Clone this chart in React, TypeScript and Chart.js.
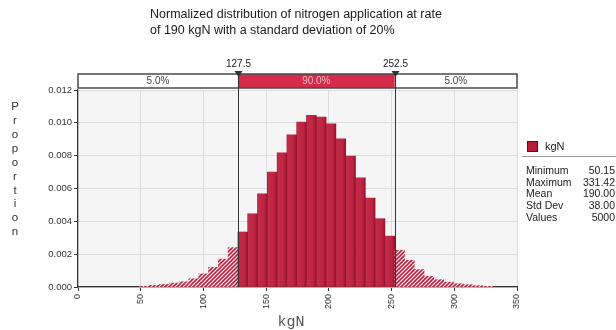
import React, { useEffect, useRef } from 'react';
import { Chart, registerables } from 'chart.js';

Chart.register(...registerables);

const titleLines = [
  'Normalized distribution of nitrogen application at rate',
  'of 190 kgN with a standard deviation of 20%',
];

const binCenters = [
  53.28, 61.09, 68.91, 76.72, 84.53, 92.34, 100.16, 107.97, 115.78, 123.59,
  131.41, 139.22, 147.03, 154.84, 162.66, 170.47, 178.28, 186.09, 193.91, 201.72,
  209.53, 217.34, 225.16, 232.97, 240.78, 248.59,
  256.41, 264.22, 272.03, 279.84, 287.66, 295.47, 303.28, 311.09, 318.91, 326.72,
];

const proportions = [
  0.00004, 0.0001, 0.00016, 0.00024, 0.00032, 0.0005, 0.0008, 0.0012, 0.0017, 0.0024,
  0.00335, 0.00446, 0.00568, 0.007, 0.00817, 0.00927, 0.01004, 0.01045, 0.01035, 0.00994,
  0.00903, 0.00797, 0.00665, 0.00542, 0.00416, 0.0031,
  0.00224, 0.00163, 0.00106, 0.00065, 0.00045, 0.0003, 0.0002, 0.00014, 0.00008, 0.00004,
];

const xTickValues = [0, 50, 100, 150, 200, 250, 300, 350];
const yTickValues = [0, 0.002, 0.004, 0.006, 0.008, 0.01, 0.012];

const delimiters = [127.5, 252.5];
const bandLabels = ['5.0%', '90.0%', '5.0%'];

const yAxisTitle = 'Proportion';
const xAxisTitle = 'kgN';
const legendLabel = 'kgN';
const statNames = ['Minimum', 'Maximum', 'Mean', 'Std Dev', 'Values'];
const statValues = ['50.15', '331.42', '190.00', '38.00', '5000'];

const RED = '#bd1d3c';
const SANS = '"Liberation Sans", Arial, sans-serif';

function inside(v: number) {
  return v > delimiters[0] && v < delimiters[1];
}

function makeHatch(): CanvasPattern | string {
  const c = document.createElement('canvas');
  c.width = 4;
  c.height = 4;
  const g = c.getContext('2d');
  if (!g) return RED;
  g.fillStyle = '#ffffff';
  g.fillRect(0, 0, 4, 4);
  g.strokeStyle = RED;
  g.lineWidth = 1.6;
  g.beginPath();
  g.moveTo(-1, 5);
  g.lineTo(5, -1);
  g.moveTo(-1, 1);
  g.lineTo(1, -1);
  g.moveTo(3, 5);
  g.lineTo(5, 3);
  g.stroke();
  const p = g.createPattern(c, 'repeat');
  return p || RED;
}

export default function App() {
  const ref = useRef<HTMLCanvasElement | null>(null);

  useEffect(() => {
    const canvas = ref.current;
    if (!canvas) return;
    const hatch = makeHatch();

    const bgPlugin = {
      id: 'plotBg',
      beforeDraw(chart: any) {
        const { ctx, chartArea: a } = chart;
        ctx.save();
        ctx.fillStyle = '#f5f5f6';
        ctx.fillRect(a.left, a.top, a.right - a.left, a.bottom - a.top);
        ctx.restore();
      },
    };

    const shadePlugin = {
      id: 'shade',
      afterDatasetsDraw(chart: any) {
        const { ctx } = chart;
        const meta = chart.getDatasetMeta(0);
        ctx.save();
        meta.data.forEach((el: any, i: number) => {
          if (!inside(binCenters[i])) return;
          const { x, y, base, width } = el.getProps(['x', 'y', 'base', 'width'], true);
          const l = x - width / 2;
          const r = x + width / 2;
          const g = ctx.createLinearGradient(l, 0, r, 0);
          g.addColorStop(0, 'rgba(90,0,20,0.25)');
          g.addColorStop(0.15, 'rgba(255,255,255,0.06)');
          g.addColorStop(0.45, 'rgba(255,255,255,0.04)');
          g.addColorStop(0.85, 'rgba(60,0,15,0.12)');
          g.addColorStop(1, 'rgba(60,0,15,0.35)');
          ctx.fillStyle = g;
          ctx.fillRect(l, y, r - l, base - y);
        });
        ctx.restore();
      },
    };

    const overlayPlugin = {
      id: 'overlay',
      afterDraw(chart: any) {
        const { ctx, chartArea: a } = chart;
        const xs = chart.scales.x;
        const bandTop = a.top - 16;
        const bandBottom = a.top - 2;
        const dx = delimiters.map((d) => xs.getPixelForValue(d));
        ctx.save();

        // band
        ctx.fillStyle = '#ffffff';
        ctx.fillRect(a.left, bandTop, a.right - a.left, bandBottom - bandTop);
        ctx.fillStyle = '#d52a49';
        ctx.fillRect(dx[0], bandTop, dx[1] - dx[0], bandBottom - bandTop);
        ctx.strokeStyle = '#4a4a4a';
        ctx.lineWidth = 1.5;
        ctx.strokeRect(a.left, bandTop, a.right - a.left, bandBottom - bandTop);

        // delimiter lines
        ctx.strokeStyle = '#333333';
        ctx.lineWidth = 1;
        dx.forEach((x) => {
          const px = Math.round(x) + 0.5;
          ctx.beginPath();
          ctx.moveTo(px, bandTop);
          ctx.lineTo(px, a.bottom);
          ctx.stroke();
        });

        // band texts
        ctx.font = `10px ${SANS}`;
        ctx.textAlign = 'center';
        ctx.textBaseline = 'middle';
        const segs = [a.left, dx[0], dx[1], a.right];
        bandLabels.forEach((t, i) => {
          ctx.fillStyle = i === 1 ? '#f4b8c3' : '#444444';
          ctx.fillText(t, (segs[i] + segs[i + 1]) / 2, (bandTop + bandBottom) / 2 + 0.5);
        });

        // triangles and delimiter labels
        dx.forEach((x, i) => {
          const px = Math.round(x) + 0.5;
          ctx.fillStyle = '#333333';
          ctx.beginPath();
          ctx.moveTo(px - 4, bandTop - 3);
          ctx.lineTo(px + 4, bandTop - 3);
          ctx.lineTo(px, bandTop + 3);
          ctx.closePath();
          ctx.fill();
          ctx.fillStyle = '#222222';
          ctx.font = `10px ${SANS}`;
          ctx.fillText(String(delimiters[i]), px, bandTop - 10);
        });

        // title
        ctx.fillStyle = '#1a1a1a';
        ctx.font = `12.5px ${SANS}`;
        ctx.textAlign = 'left';
        ctx.textBaseline = 'middle';
        titleLines.forEach((t, i) => ctx.fillText(t, 150, 15 + i * 16));

        // y axis title (stacked letters)
        ctx.fillStyle = '#333333';
        ctx.font = `11.5px ${SANS}`;
        ctx.textAlign = 'center';
        yAxisTitle.split('').forEach((ch, i) => ctx.fillText(ch, 15, 107 + i * 13.9));

        // x axis title
        ctx.fillStyle = '#555555';
        ctx.font = `15px "Liberation Mono", "Courier New", monospace`;
        ctx.fillText(xAxisTitle, 291, 322);

        // legend
        ctx.fillStyle = '#b81c3a';
        ctx.fillRect(527, 141, 11, 11);
        ctx.strokeStyle = '#5a0a1a';
        ctx.lineWidth = 1;
        ctx.strokeRect(527.5, 141.5, 10, 10);
        ctx.fillStyle = '#222222';
        ctx.font = `11px ${SANS}`;
        ctx.textAlign = 'left';
        ctx.fillText(legendLabel, 545, 147);
        ctx.strokeStyle = '#9a9a9a';
        ctx.beginPath();
        ctx.moveTo(522, 156.5);
        ctx.lineTo(616, 156.5);
        ctx.stroke();
        ctx.font = `10.5px ${SANS}`;
        statNames.forEach((n, i) => {
          const yy = 171 + i * 11.8;
          ctx.textAlign = 'left';
          ctx.fillText(n, 526, yy);
          ctx.textAlign = 'right';
          ctx.fillText(statValues[i], 615, yy);
        });
        ctx.restore();
      },
    };

    const chart = new Chart(canvas, {
      type: 'bar',
      data: {
        datasets: [
          {
            label: legendLabel,
            data: binCenters.map((x, i) => ({ x, y: proportions[i] })),
            backgroundColor: binCenters.map((x) => (inside(x) ? RED : hatch)) as any,
            borderWidth: 0,
            barPercentage: 1,
            categoryPercentage: 1,
          },
        ],
      },
      options: {
        animation: false,
        responsive: false,
        events: [],
        layout: { padding: { left: 0, top: 90, right: 99, bottom: 0 } },
        plugins: { legend: { display: false }, title: { display: false }, tooltip: { enabled: false } },
        scales: {
          x: {
            type: 'linear',
            min: 0,
            max: 350,
            offset: false,
            afterBuildTicks: (s: any) => {
              s.ticks = xTickValues.map((v) => ({ value: v }));
            },
            afterFit: (s: any) => {
              s.height = 43;
            },
            ticks: {
              autoSkip: false,
              minRotation: 90,
              maxRotation: 90,
              padding: 3,
              color: '#333333',
              font: { family: SANS, size: 9 },
            },
            grid: { offset: false, color: '#dcdcdf', tickColor: '#333333', tickLength: 4, lineWidth: 1 },
            border: { color: '#333333', width: 1.2 },
          },
          y: {
            min: 0,
            max: 0.012,
            afterBuildTicks: (s: any) => {
              s.ticks = yTickValues.map((v) => ({ value: v }));
            },
            afterFit: (s: any) => {
              s.width = 78;
            },
            ticks: {
              autoSkip: false,
              padding: 2,
              color: '#333333',
              font: { family: SANS, size: 9.5 },
              callback: (v: any) => Number(v).toFixed(3),
            },
            grid: { color: '#dcdcdf', tickColor: '#333333', tickLength: 4, lineWidth: 1 },
            border: { color: '#333333', width: 1.2 },
          },
        },
      },
      plugins: [bgPlugin, shadePlugin, overlayPlugin],
    });
    return () => chart.destroy();
  }, []);

  return (
    <div style={{ position: 'absolute', left: 0, top: 0, width: 616, height: 330, background: '#ffffff' }}>
      <canvas ref={ref} width={616} height={330} style={{ display: 'block', width: 616, height: 330 }} />
    </div>
  );
}
